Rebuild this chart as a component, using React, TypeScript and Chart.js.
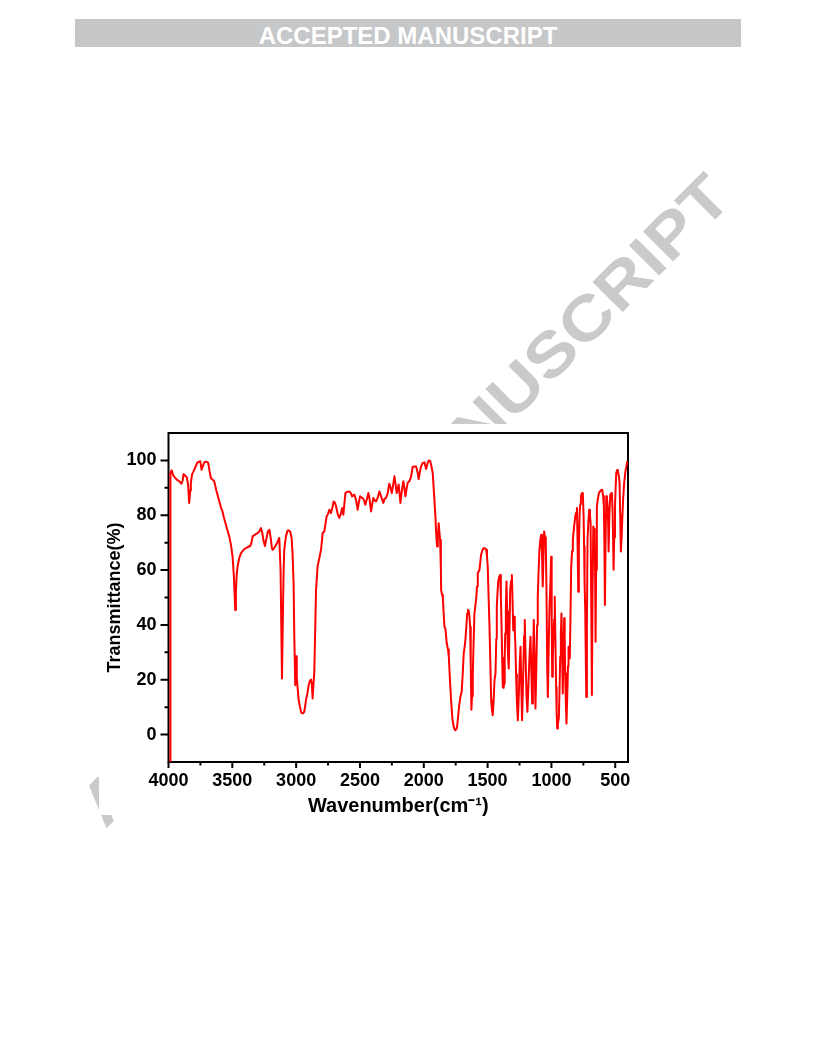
import React, { useEffect, useRef } from 'react';
import { Chart, registerables } from 'chart.js';

Chart.register(...registerables);

const wavenumbers = [
  3986, 3985, 3975, 3965, 3955, 3935, 3916, 3898, 3890, 3882,
  3870, 3856, 3846, 3838, 3830, 3825, 3815, 3804, 3790, 3773,
  3751, 3741, 3730, 3720, 3700, 3689, 3678, 3668, 3655, 3642,
  3625, 3602, 3590, 3577, 3565, 3550, 3535, 3524, 3510, 3498,
  3488, 3481, 3477, 3472, 3466, 3459, 3445, 3432, 3410, 3393,
  3375, 3359, 3350, 3341, 3320, 3302, 3290, 3276, 3265, 3255,
  3244, 3235, 3222, 3210, 3200, 3190, 3184, 3170, 3150, 3132,
  3122, 3115, 3111, 3105, 3098, 3093, 3080, 3067, 3055, 3046,
  3035, 3028, 3020, 3014, 3007, 3001, 2995, 2989, 2980, 2970,
  2960, 2949, 2936, 2923, 2912, 2902, 2893, 2884, 2877, 2871,
  2865, 2858, 2852, 2844, 2832, 2820, 2805, 2792, 2779, 2770,
  2761, 2750, 2740, 2727, 2715, 2706, 2695, 2687, 2675, 2662,
  2650, 2640, 2630, 2614, 2600, 2583, 2570, 2562, 2544, 2530,
  2518, 2508, 2499, 2490, 2479, 2468, 2458, 2445, 2434, 2425,
  2413, 2404, 2395, 2385, 2374, 2360, 2348, 2335, 2317, 2307,
  2296, 2283, 2270, 2260, 2251, 2240, 2230, 2220, 2212, 2205,
  2197, 2190, 2183, 2172, 2160, 2152, 2144, 2135, 2126, 2112,
  2099, 2087, 2075, 2060, 2050, 2040, 2030, 2021, 2008, 1995,
  1982, 1970, 1961, 1950, 1943, 1930, 1925, 1917, 1909, 1903,
  1896, 1890, 1883, 1878, 1872, 1866, 1864, 1857, 1851, 1845,
  1838, 1830, 1820, 1810, 1804, 1795, 1786, 1776, 1768, 1760,
  1752, 1745, 1739, 1730, 1721, 1712, 1703, 1695, 1687, 1680,
  1674, 1667, 1660, 1654, 1648, 1642, 1637, 1632, 1627, 1622,
  1616, 1610, 1603, 1596, 1590, 1583, 1577, 1570, 1564, 1557,
  1551, 1542, 1533, 1522, 1511, 1505, 1499, 1492, 1485, 1478,
  1472, 1466, 1460, 1453, 1446, 1438, 1432, 1428, 1422, 1417,
  1410, 1402, 1396, 1391, 1386, 1381, 1375, 1370, 1366, 1362,
  1357, 1352, 1347, 1342, 1338, 1334, 1328, 1323, 1316, 1310,
  1305, 1299, 1292, 1287, 1282, 1277, 1271, 1263, 1255, 1248,
  1242, 1236, 1230, 1222, 1214, 1209, 1202, 1195, 1188, 1180,
  1172, 1164, 1158, 1151, 1145, 1138, 1132, 1125, 1118, 1112,
  1107, 1100, 1094, 1087, 1080, 1074, 1068, 1062, 1057, 1050,
  1044, 1038, 1033, 1028, 1022, 1015, 1008, 1002, 998, 994,
  989, 984, 979, 974, 969, 963, 959, 955, 949, 942,
  937, 931, 926, 921, 916, 911, 906, 900, 896, 892,
  887, 882, 876, 870, 866, 861, 856, 850, 845, 838,
  832, 822, 813, 806, 800, 795, 790, 785, 779, 774,
  769, 762, 754, 748, 744, 740, 735, 731, 727, 722,
  717, 710, 704, 698, 693, 688, 683, 678, 672, 666,
  661, 657, 654, 650, 644, 636, 628, 615, 602, 595,
  589, 585, 581, 576, 570, 565, 560, 556, 552, 546,
  539, 532, 526, 520, 513, 508, 502, 497, 492, 485,
  479, 472, 466, 461, 456, 450, 445, 438, 430, 420, 405,
];

const transmittance = [
  -15, 95.4, 96.4, 94.8, 94, 93, 92.4, 91.5, 92.5, 95,
  94.5, 93.8, 91, 84.5, 89, 91.8, 95, 96, 97.5, 99.3,
  99.7, 96.6, 98, 99.3, 99.5, 99.1, 96, 93.6, 93, 92.4,
  89, 85, 83, 81.4, 79, 76.5, 74, 72.3, 69, 64.9,
  58, 50, 45.4, 52, 58, 61.3, 64.5, 66.2, 67.5, 68,
  68.5, 68.8, 70, 72.3, 73, 73.5, 74, 75.3, 73.5, 70.5,
  68.8, 71, 74, 74.7, 72, 68, 67.4, 68.2, 69.8, 71.7,
  60, 35, 20.5, 40, 60, 67.4, 72.3, 74.4, 74.4, 74,
  71.5, 66, 55, 34.5, 18, 28.6, 21, 17.4, 12.5, 10.1,
  8, 7.7, 8.3, 12.5, 15, 18, 19.5, 20.1, 18.5, 13.2,
  18, 22.3, 35, 52.8, 61.3, 64, 67.4, 73.5, 74.1, 77,
  79.6, 80.5, 82, 80.8, 83, 85, 84.5, 83.2, 80.5, 79,
  80.5, 82.6, 80.2, 88.1, 88.5, 88.7, 88, 86.9, 87.5, 85.5,
  82, 85, 86.9, 86.5, 86.3, 85.5, 83.8, 86, 88.1, 86,
  81.4, 84, 86.3, 85.5, 85, 86.5, 88.7, 87, 84.5, 86,
  86.3, 88, 91.5, 90, 88.1, 91, 94.2, 91, 88.1, 89.5,
  91.2, 88, 84.5, 89, 92.4, 90, 86.9, 89.5, 91.8, 92.5,
  94.2, 97.6, 97.8, 97.8, 96, 93.2, 96, 97.8, 99.1, 99.3,
  96.9, 99, 100, 99.8, 98.5, 95.4, 91.8, 85.7, 79.6, 73.5,
  68.6, 72, 77.1, 74, 71, 60, 52.8, 51, 50.3, 45,
  39.3, 38.5, 33.3, 31, 28.4, 20, 12.5, 6, 3.4, 2,
  1.6, 2, 2.8, 7, 11.3, 14, 15.6, 22, 29.6, 32,
  34.5, 39, 44.2, 45.5, 45.2, 43, 39.3, 25, 9.1, 14,
  22.3, 33, 44.2, 47, 49.1, 54, 58.9, 59.5, 60.1, 63,
  65.6, 67, 68, 68, 67.4, 65, 61.3, 50, 39.3, 25,
  12.5, 9, 7.1, 12, 19.9, 22.3, 35, 46.7, 52, 55.8,
  57.5, 58.2, 50, 40.6, 28, 17.4, 17, 18.6, 28, 36.9,
  46, 55.8, 45, 32, 27, 24.1, 40, 52.8, 56, 58.2,
  50, 38.1, 43, 38, 32, 22, 12.5, 5.2, 15, 26,
  32, 18, 5.2, 20, 36, 41.8, 28, 14, 8.3, 18,
  28, 35.7, 25, 11.3, 25, 41.8, 28, 9.5, 25, 40,
  50.3, 60, 67.4, 71, 72.9, 66, 54, 65, 74.1, 72,
  69.8, 50, 25, 13.7, 30, 46.7, 55, 64.9, 45, 21.1,
  28, 35.7, 42, 50.3, 35, 17.4, 8, 2.2, 4, 5.9,
  15, 28.4, 37, 44.2, 30, 15, 28, 42.4, 35, 22.3,
  12, 4, 14, 25, 32, 30, 27.8, 45, 61.3, 67,
  71, 76, 79.6, 81, 82.6, 70, 52.1, 68, 80.8, 84,
  86.9, 88, 88.1, 80, 68.6, 55, 45.4, 30, 13.7, 40,
  71, 78, 82, 80, 77.1, 50, 14.4, 50, 75.9, 75,
  72.3, 55, 33.9, 60, 83.2, 86, 88.1, 89, 89.3, 87,
  83.2, 70, 47.3, 70, 86.9, 86, 83.2, 78, 66.8, 80,
  87.5, 88, 88.1, 80, 60.1, 72, 83.2, 90, 95.4, 96.5,
  96, 94.5, 91.8, 80, 66.8, 72, 78.4, 86, 91.8, 96, 99.7,
];

const xMajorTicks = [500, 1000, 1500, 2000, 2500, 3000, 3500, 4000];
const xMinorTicks = [750, 1250, 1750, 2250, 2750, 3250, 3750];
const yMajorTicks = [0, 20, 40, 60, 80, 100];
const yMinorTicks = [10, 30, 50, 70, 90];

const FONT = '"Liberation Sans", Arial, Helvetica, sans-serif';

const frameTicksPlugin = {
  id: 'frameTicks',
  beforeDatasetsDraw(chart: any) {
    const { ctx, chartArea: a, scales } = chart;
    const x = scales.x;
    const y = scales.y;
    ctx.save();
    ctx.strokeStyle = '#000';
    ctx.lineWidth = 2;
    ctx.strokeRect(a.left, a.top, a.right - a.left, a.bottom - a.top);
    ctx.beginPath();
    for (const v of xMajorTicks) {
      const p = x.getPixelForValue(v);
      ctx.moveTo(p, a.bottom);
      ctx.lineTo(p, a.bottom + 6);
    }
    for (const v of xMinorTicks) {
      const p = x.getPixelForValue(v);
      ctx.moveTo(p, a.bottom);
      ctx.lineTo(p, a.bottom + 3.5);
    }
    for (const v of yMajorTicks) {
      const p = y.getPixelForValue(v);
      ctx.moveTo(a.left, p);
      ctx.lineTo(a.left - 8, p);
    }
    for (const v of yMinorTicks) {
      const p = y.getPixelForValue(v);
      ctx.moveTo(a.left, p);
      ctx.lineTo(a.left - 4, p);
    }
    ctx.stroke();
    ctx.restore();
  },
};

export default function App() {
  const canvasRef = useRef<HTMLCanvasElement | null>(null);

  useEffect(() => {
    const canvas = canvasRef.current;
    if (!canvas) return;
    const data = wavenumbers.map((w, i) => ({ x: w, y: transmittance[i] }));
    const chart = new Chart(canvas, {
      type: 'line',
      data: {
        datasets: [
          {
            data,
            borderColor: '#ff0000',
            borderWidth: 2,
            pointRadius: 0,
            tension: 0,
            borderJoinStyle: 'round',
            fill: false,
          },
        ],
      },
      options: {
        responsive: false,
        animation: false,
        devicePixelRatio: 1,
        layout: { padding: { top: 9, right: 12, left: 0, bottom: 0 } },
        plugins: {
          legend: { display: false },
          tooltip: { enabled: false },
        },
        scales: {
          x: {
            type: 'linear',
            reverse: true,
            min: 400,
            max: 4000,
            afterBuildTicks: (s: any) => {
              s.ticks = xMajorTicks.map((v) => ({ value: v }));
            },
            afterFit: (s: any) => {
              s.height = 72;
              s.paddingLeft = 0;
              s.paddingRight = 0;
              s.paddingTop = 0;
              s.paddingBottom = 0;
            },
            grid: { display: false, drawTicks: false },
            border: { display: false },
            ticks: {
              color: '#000',
              padding: 8,
              maxRotation: 0,
              autoSkip: false,
              font: { family: FONT, size: 18, weight: 'bold' },
              callback: (v: any) => String(v),
            },
            title: {
              display: true,
              text: 'Wavenumber(cm⁻¹)',
              color: '#000',
              font: { family: FONT, size: 20, weight: 'bold' },
              padding: { top: 0, bottom: 16 },
            },
          },
          y: {
            type: 'linear',
            min: -10,
            max: 110,
            afterBuildTicks: (s: any) => {
              s.ticks = yMajorTicks.map((v) => ({ value: v }));
            },
            afterFit: (s: any) => {
              s.width = 68.5;
              s.paddingLeft = 0;
              s.paddingRight = 0;
              s.paddingTop = 0;
              s.paddingBottom = 0;
            },
            grid: { display: false, drawTicks: false },
            border: { display: false },
            ticks: {
              color: '#000',
              padding: 12,
              autoSkip: false,
              font: { family: FONT, size: 18, weight: 'bold' },
              callback: (v: any) => String(v),
            },
            title: {
              display: true,
              text: 'Transmittance(%)',
              color: '#000',
              font: { family: FONT, size: 18, weight: 'bold' },
              padding: { top: 4, bottom: 0 },
            },
          },
        },
      },
      plugins: [frameTicksPlugin],
    } as any);
    return () => chart.destroy();
  }, []);

  return (
    <div
      style={{
        position: 'absolute',
        left: 0,
        top: 0,
        width: 816,
        height: 1056,
        background: '#fff',
        overflow: 'hidden',
      }}
    >
      <div
        style={{
          position: 'absolute',
          left: 75,
          top: 19,
          width: 666,
          height: 28,
          background: '#c6c7c9',
        }}
      />
      <div
        style={{
          position: 'absolute',
          left: 75,
          top: 24,
          width: 666,
          textAlign: 'center',
          color: '#fff',
          fontFamily: FONT,
          fontWeight: 'bold',
          fontSize: 24,
          lineHeight: '24px',
          whiteSpace: 'nowrap',
        }}
      >
        ACCEPTED MANUSCRIPT
      </div>
      <div
        style={{
          position: 'absolute',
          left: 405,
          top: 500,
          transform: 'translate(-50%, -50%) rotate(-45deg) scaleX(1.153)',
          fontFamily: FONT,
          fontWeight: 'bold',
          fontSize: 62,
          lineHeight: '62px',
          color: '#c9cacc',
          whiteSpace: 'nowrap',
        }}
      >
        ACCEPTED MANUSCRIPT
      </div>
      <div
        style={{
          position: 'absolute',
          left: 99,
          top: 424,
          width: 537,
          height: 391,
          background: '#fff',
        }}
      />
      <canvas
        ref={canvasRef}
        width={540}
        height={410}
        style={{ position: 'absolute', left: 100, top: 424, width: 540, height: 410 }}
      />
    </div>
  );
}
